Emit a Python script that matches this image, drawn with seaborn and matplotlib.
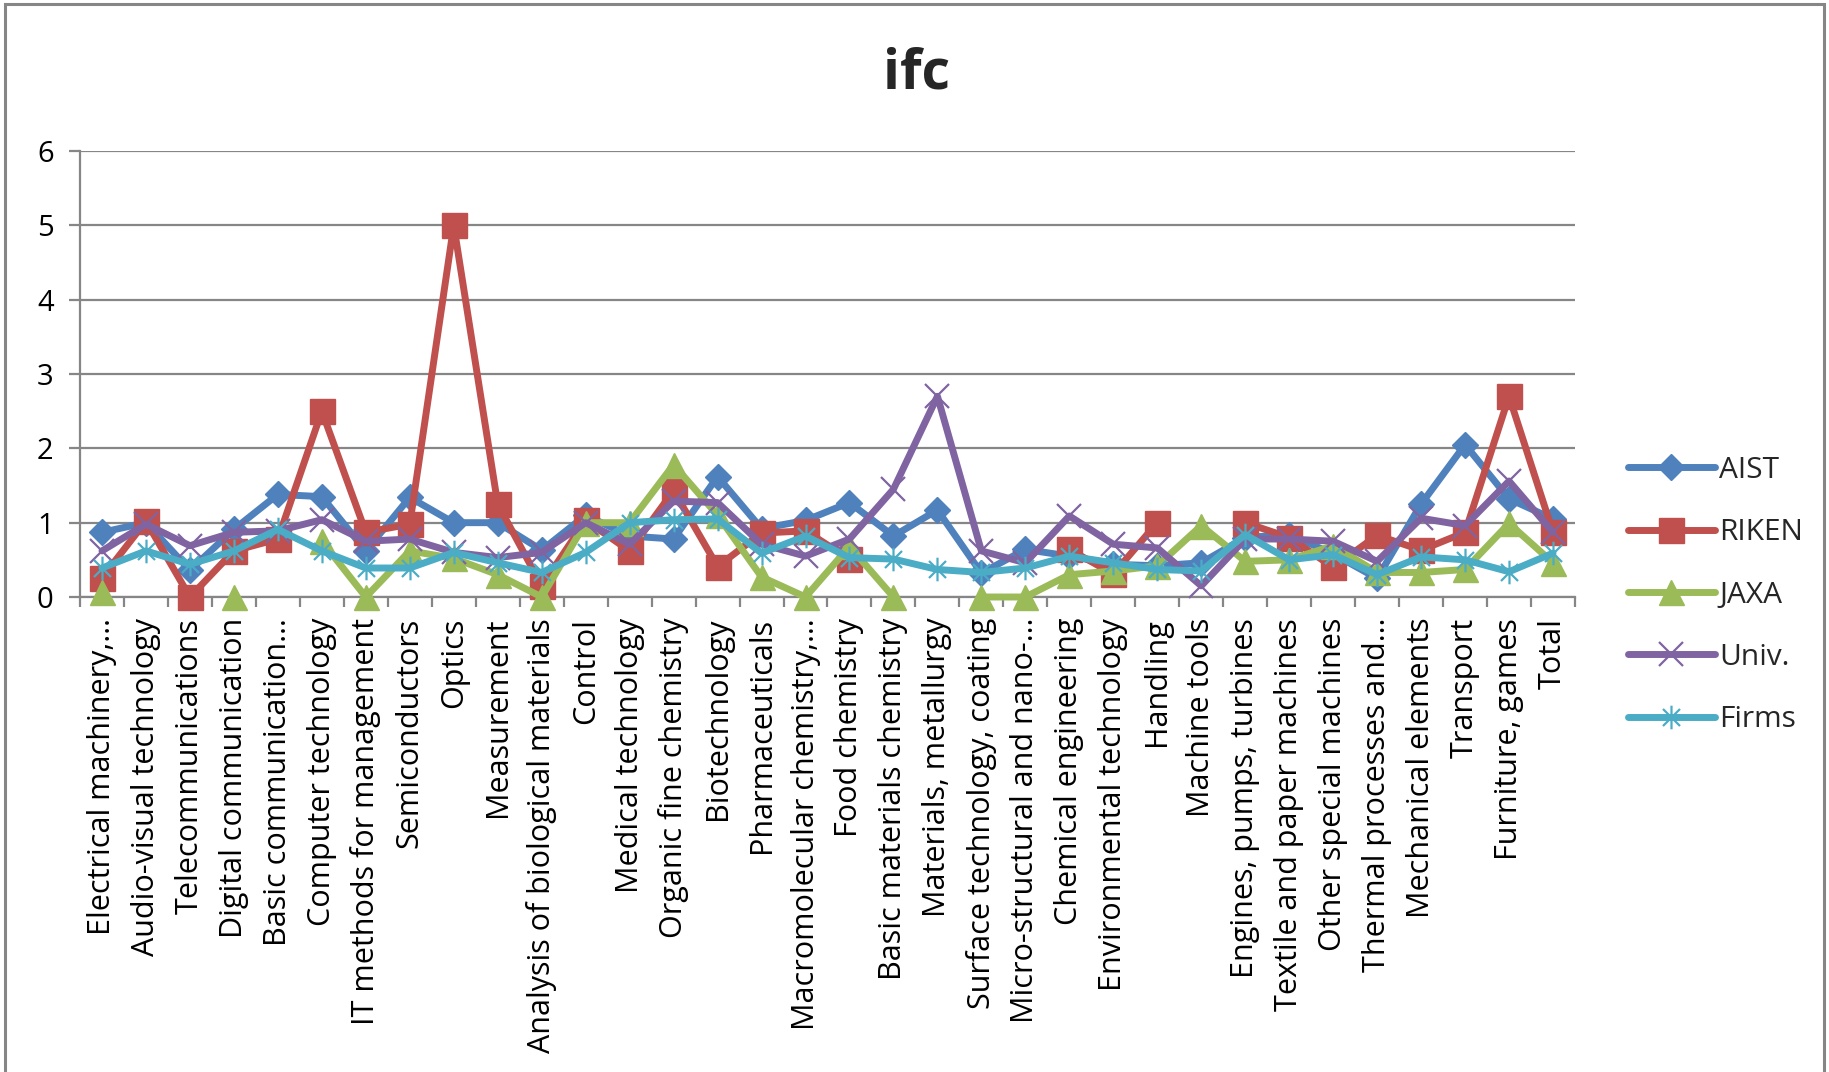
import numpy as np
import pandas as pd
import matplotlib
matplotlib.use("Agg")
import matplotlib.pyplot as plt
import seaborn as sns
from matplotlib.lines import Line2D
from matplotlib.path import Path
from matplotlib.patches import Rectangle

nan = np.nan

categories = [
    "Electrical machinery,\u2026", "Audio-visual technology", "Telecommunications",
    "Digital communication", "Basic communication\u2026", "Computer technology",
    "IT methods for management", "Semiconductors", "Optics", "Measurement",
    "Analysis of biological materials", "Control", "Medical technology",
    "Organic fine chemistry", "Biotechnology", "Pharmaceuticals",
    "Macromolecular chemistry,\u2026", "Food chemistry", "Basic materials chemistry",
    "Materials, metallurgy", "Surface technology, coating", "Micro-structural and nano-\u2026",
    "Chemical engineering", "Environmental technology", "Handling", "Machine tools",
    "Engines, pumps, turbines", "Textile and paper machines", "Other special machines",
    "Thermal processes and\u2026", "Mechanical elements", "Transport", "Furniture, games",
    "Total",
]

aist = [0.87, 1.00, 0.36, 0.91, 1.38, 1.35, 0.62, 1.34, 1.00, 1.00, 0.63, 1.10,
        0.82, 0.78, 1.62, 0.92, 1.03, 1.27, 0.82, 1.17, 0.32, 0.64, 0.55, 0.44,
        0.42, 0.46, 0.80, 0.84, 0.58, 0.25, 1.25, 2.05, 1.32, 1.05]
riken = [0.26, 1.02, 0.00, 0.62, 0.78, 2.50, 0.87, 0.98, 5.00, 1.25, 0.15, 1.03,
         0.62, 1.43, 0.41, 0.86, 0.89, 0.51, nan, nan, nan, nan, 0.64, 0.31,
         1.00, nan, 1.00, 0.80, 0.40, 0.83, 0.63, 0.87, 2.70, 0.87]
jaxa = [0.07, nan, nan, 0.00, nan, 0.75, 0.00, 0.62, 0.52, 0.30, 0.00, 1.00,
        1.00, 1.78, 1.10, 0.27, 0.00, 0.68, 0.00, nan, 0.00, 0.00, 0.30, 0.35,
        0.42, 0.96, 0.48, 0.50, 0.69, 0.33, 0.33, 0.37, 0.99, 0.46]
univ = [0.62, 0.98, 0.69, 0.87, 0.89, 1.04, 0.75, 0.78, 0.60, 0.53, 0.60, 1.00,
        0.71, 1.29, 1.27, 0.71, 0.55, 0.78, 1.45, 2.70, 0.62, 0.46, 1.09, 0.71,
        0.66, 0.15, 0.78, 0.78, 0.75, 0.48, 1.06, 0.96, 1.56, 0.87]
firms = [0.39, 0.62, 0.44, 0.62, 0.91, 0.62, 0.39, 0.39, 0.60, 0.46, 0.33, 0.60,
         1.00, 1.04, 1.05, 0.59, 0.82, 0.53, 0.51, 0.37, 0.33, 0.39, 0.55, 0.46,
         0.37, 0.35, 0.84, 0.50, 0.57, 0.30, 0.54, 0.50, 0.34, 0.59]

series_names = ["AIST", "RIKEN", "JAXA", "Univ.", "Firms"]
series_values = [aist, riken, jaxa, univ, firms]
colors = ["#4F81BD", "#C0504D", "#9BBB59", "#8064A2", "#4BACC6"]

# six-armed asterisk: vertical stroke plus an X
star_path = Path(
    [(0, -1), (0, 1), (-0.72, -0.72), (0.72, 0.72), (-0.72, 0.72), (0.72, -0.72)],
    [Path.MOVETO, Path.LINETO] * 3,
)
marker_styles = [
    dict(marker="D", markersize=13, markeredgewidth=1.0),
    dict(marker="s", markersize=18, markeredgewidth=1.0),
    dict(marker="^", markersize=18, markeredgewidth=1.0),
    dict(marker="x", markersize=17, markeredgewidth=1.6),
    dict(marker=star_path, markersize=17, markeredgewidth=1.6),
]

sns.set_theme(style="white")
plt.rcParams["font.family"] = ["Open Sans", "DejaVu Sans"]

W, H = 1829, 1072
fig = plt.figure(figsize=(W / 100, H / 100), dpi=100)
ax = fig.add_axes([80 / W, 1 - 597 / H, (1575 - 80) / W, (597 - 151) / H])

grid_color = "#868686"
lw = 5.0

for k, (name, vals, col, ms) in enumerate(zip(series_names, series_values, colors, marker_styles)):
    df = pd.DataFrame({"pos": np.arange(len(categories)), "value": vals})
    # contiguous runs of data are drawn as separate segments, leaving gaps for missing values
    df["segment"] = df["value"].isna().cumsum()
    df = df.dropna()
    sns.lineplot(
        data=df, x="pos", y="value", units="segment", estimator=None, ax=ax,
        color=col, linewidth=lw, markeredgecolor=col, markerfacecolor=col,
        solid_joinstyle="round", solid_capstyle="round", clip_on=False,
        zorder=3 + k, legend=False, **ms,
    )

ax.set_xlim(-0.5, len(categories) - 0.5)
ax.set_ylim(0, 6)
ax.set_xlabel("")
ax.set_ylabel("")

# horizontal gridlines
ax.set_yticks(range(0, 7))
ax.yaxis.grid(True, color=grid_color, linewidth=1.6)
ax.xaxis.grid(False)
ax.set_axisbelow(True)
ax.tick_params(axis="y", which="major", left=True, length=8, width=1.6,
               color=grid_color, pad=11, labelsize=21, labelcolor="black")

ax.set_xticks(np.arange(len(categories)))
ax.set_xticklabels(categories, rotation=90, ha="center", va="top")
ax.set_xticks(np.arange(-0.5, len(categories), 1.0), minor=True)
ax.tick_params(axis="x", which="major", length=0, pad=15, labelsize=22, labelcolor="black")
ax.tick_params(axis="x", which="minor", bottom=True, length=7, width=1.6, color=grid_color)

for side in ["top", "right"]:
    ax.spines[side].set_visible(False)
for side in ["left", "bottom"]:
    ax.spines[side].set_color(grid_color)
    ax.spines[side].set_linewidth(1.6)

fig.text(0.501, 1 - 74 / H, "ifc", ha="center", va="center", fontsize=40, fontweight="bold")

handles = [
    Line2D([], [], color=col, linewidth=lw, solid_capstyle="round",
           markeredgecolor=col, markerfacecolor=col, **ms)
    for col, ms in zip(colors, marker_styles)
]
fig.legend(handles, series_names, loc="center left", bbox_to_anchor=(1628 / W, 1 - 595 / H),
           frameon=False, fontsize=21.5, handlelength=2.9, handletextpad=0.15,
           labelspacing=1.12, borderpad=0, borderaxespad=0)

# chart-area border
fig.patches.append(Rectangle((5 / W, -0.05), (1824 - 5) / W, 1.05 - 4 / H,
                             transform=fig.transFigure, fill=False,
                             edgecolor=grid_color, linewidth=2.2))

fig.savefig("out.png", dpi=100)
